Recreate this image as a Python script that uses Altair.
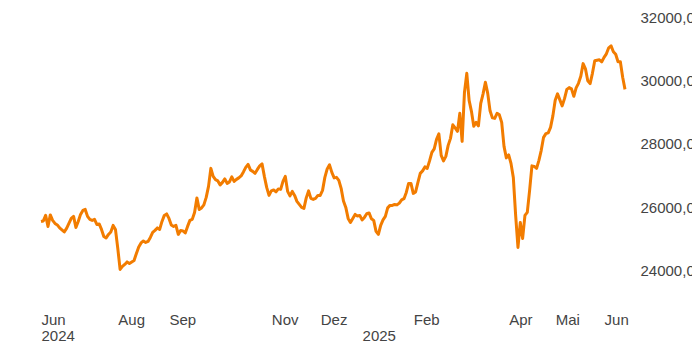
import altair as alt
import pandas as pd

# Trading calendar (Xetra): business days minus exchange holidays
holidays = ["2024-12-24", "2024-12-25", "2024-12-26", "2024-12-31",
            "2025-01-01", "2025-04-18", "2025-04-21", "2025-05-01"]
days = [d.strftime("%Y-%m-%d") for d in pd.bdate_range("2024-06-17", "2025-06-13")]
days = [d for d in days if d not in holidays]

values = [
    25549, 25565, 25739, 25391, 25755, 25581, 25486, 25439, 25344, 25280,
    25217, 25328, 25486, 25644, 25708, 25359, 25549, 25771, 25898, 25929,
    25708, 25613, 25581, 25613, 25454, 25470, 25296, 25075, 25027, 25138,
    25217, 25423, 25296, 24695, 24030, 24125, 24188, 24268, 24220, 24268,
    24315, 24537, 24742, 24869, 24932, 24885, 24916, 25043, 25201, 25265,
    25344, 25296, 25549, 25739, 25787, 25644, 25439, 25391, 25423, 25138,
    25265, 25249, 25185, 25391, 25581, 25613, 25834, 26293, 25929, 25977,
    26072, 26309, 26657, 27227, 26974, 26869, 26831, 26705, 26784, 26894,
    26752, 26800, 26958, 26815, 26879, 26926, 26989, 27116, 27258, 27353,
    27179, 27132, 27069, 27195, 27306, 27369, 26974, 26625, 26372, 26515,
    26546, 26483, 26578, 26562, 26815, 26974, 26499, 26356, 26499, 26372,
    26182, 26087, 25992, 25961, 26293, 26515, 26277, 26246, 26277, 26372,
    26372, 26531, 26942, 27211, 27338, 27100, 26926, 26942, 26847, 26594,
    26198, 25992, 25644, 25518, 25644, 25771, 25723, 25739, 25597, 25676,
    25793, 25818, 25635, 25581, 25233, 25138, 25423, 25597, 25708, 25977,
    26056, 26056, 26087, 26072, 26128, 26230, 26268, 26467, 26752, 26752,
    26436, 26483, 26784, 27069, 27148, 27274, 27227, 27464, 27733, 27844,
    28145, 28319, 27638, 27464, 27607, 27955, 28176, 28604, 28509, 28398,
    28968, 28081, 29632, 30234, 29379, 29031, 28556, 28683, 28572, 29284,
    29585, 29949, 29601, 29047, 28825, 28809, 28968, 28920, 28683, 27923,
    27559, 27654, 27385, 26942, 25739, 24726, 25518, 25011, 25739, 25834,
    26531, 27306, 27290, 27227, 27480, 27797, 28208, 28325, 28350, 28524,
    28888, 29379, 29585, 29395, 29205, 29433, 29727, 29781, 29743, 29506,
    29775, 29917, 30139, 30541, 30376, 29996, 29908, 30234, 30629, 30645,
    30661, 30598, 30740, 30851, 31041, 31104, 30914, 30835, 30598, 30598,
    30107, 29727,
]

tick_dates = ["2024-06-17", "2024-08-01", "2024-09-02", "2024-11-01", "2024-12-02",
              "2025-01-02", "2025-02-03", "2025-04-01", "2025-05-02", "2025-06-02"]
tick_labels = [["Jun", "2024"], "Aug", "Sep", "Nov", "Dez",
               ["", "2025"], "Feb", "Apr", "Mai", "Jun"]
y_ticks = [24000, 26000, 28000, 30000, 32000]

n = min(len(days), len(values))
df = pd.DataFrame({"date": days[:n], "value": values[:n]})


def lit(lab):
    if isinstance(lab, list):
        return "[" + ",".join("'" + s + "'" for s in lab) + "]"
    return "'" + lab + "'"


expr = ""
for d, lab in zip(tick_dates, tick_labels):
    expr += "datum.value == '" + d + "' ? " + lit(lab) + " : "
expr += "''"

FONT = "Liberation Sans"
GRAY = "#444444"

chart = alt.Chart(df).mark_line(
    color="#f27c00", strokeWidth=3, strokeJoin="round"
).encode(
    x=alt.X(
        "date:O", sort=None, title=None,
        scale=alt.Scale(type="point", padding=0),
        axis=alt.Axis(
            values=tick_dates, labelExpr=expr, labelAlign="left", labelBaseline="top",
            labelPadding=10, labelFontSize=15, labelFont=FONT, labelColor=GRAY,
            labelLineHeight=16, labelAngle=0, labelOverlap=False, labelBound=False,
            labelFlush=False, domain=False, ticks=False, grid=False,
        ),
    ),
    y=alt.Y(
        "value:Q", title=None,
        scale=alt.Scale(domain=[23000, 32300], zero=False, nice=False),
        axis=alt.Axis(
            orient="right", values=y_ticks,
            labelExpr="replace(format(datum.value, '.2f'), '.', ',')",
            labelAlign="left", labelBaseline="middle", labelPadding=15,
            labelFontSize=15, labelFont=FONT, labelColor=GRAY,
            labelOverlap=False, labelFlush=False, labelBound=False,
            domain=False, ticks=False, grid=False,
        ),
    ),
).properties(
    width=584, height=294,
    padding={"left": 33, "top": 0, "right": 67, "bottom": 44},
    autosize=alt.AutoSizeParams(type="none"),
).configure_view(stroke=None)

chart.save("out.html", embed_options={"renderer": "svg", "actions": False})
